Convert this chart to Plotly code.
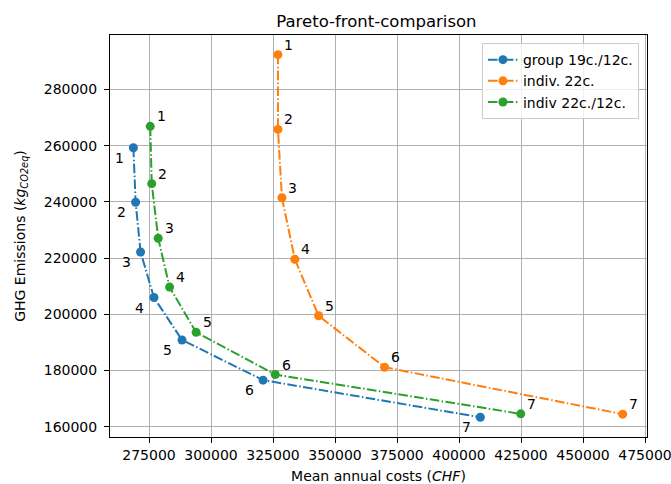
import plotly.graph_objects as go

labels = ["1", "2", "3", "4", "5", "6", "7"]

group_x = [268700, 269600, 271600, 277000, 288300, 321000, 408600]
group_y = [259300, 239900, 222200, 206000, 190900, 176600, 163400]

indiv_x = [327000, 327000, 328600, 333800, 343400, 370000, 466000]
indiv_y = [292400, 265800, 241500, 219600, 199500, 181200, 164500]

mixed_x = [275500, 276100, 278700, 283300, 294000, 325900, 424900]
mixed_y = [266900, 246500, 227100, 209700, 193600, 178600, 164600]

series_names = ["group 19c./12c.", "indiv. 22c.", "indiv 22c./12c."]
colors = ["#1f77b4", "#ff7f0e", "#2ca02c"]
x_ticks = [275000, 300000, 325000, 350000, 375000, 400000, 425000, 450000, 475000]
y_ticks = [160000, 180000, 200000, 220000, 240000, 260000, 280000]

FONT = "DejaVu Sans"
dash = "9.6px,2.4px,1.5px,2.4px"

fig = go.Figure()
datasets = [(group_x, group_y), (indiv_x, indiv_y), (mixed_x, mixed_y)]
offsets = [(-14, -10), (11, 10), (11, 10)]

for (xs, ys), name, col, (dx, dy) in zip(datasets, series_names, colors, offsets):
    fig.add_trace(go.Scatter(
        x=xs, y=ys, mode="lines+markers", name=name,
        line=dict(color=col, width=2, dash=dash),
        marker=dict(color=col, size=9),
    ))
    for xv, yv, lab in zip(xs, ys, labels):
        fig.add_annotation(x=xv, y=yv, xref="x", yref="y", text=lab,
                           showarrow=False, xshift=dx, yshift=dy,
                           font=dict(family=FONT, size=14, color="black"))

fig.update_layout(
    width=671, height=484,
    margin=dict(l=110, r=24, t=35, b=47),
    paper_bgcolor="white", plot_bgcolor="white",
    font=dict(family=FONT, size=14, color="black"),
    title=dict(text="Pareto-front-comparison", x=0.561, xanchor="center",
               y=1 - 21 / 484, yanchor="middle", font=dict(family=FONT, size=16.5)),
    showlegend=True,
    legend=dict(x=0.985, y=0.98, xanchor="right", yanchor="top",
                bgcolor="rgba(255,255,255,0.8)", bordercolor="#cccccc",
                borderwidth=1, font=dict(family=FONT, size=14)),
)
fig.update_xaxes(
    range=[259274, 475806], tickvals=x_ticks,
    tickformat="d", showgrid=True, gridcolor="#b0b0b0", gridwidth=1,
    showline=True, linecolor="black", linewidth=1, mirror=True,
    ticks="outside", ticklen=5, tickcolor="black", zeroline=False,
    automargin=False, ticklabeloverflow="allow",
    title=dict(text="Mean annual costs (<i>CHF</i>)", font=dict(size=14)),
)
fig.update_yaxes(
    range=[156370, 299400], tickvals=y_ticks,
    tickformat="d", showgrid=True, gridcolor="#b0b0b0", gridwidth=1,
    showline=True, linecolor="black", linewidth=1, mirror=True,
    ticks="outside", ticklen=5, tickcolor="black", zeroline=False,
    automargin=True, ticklabelstandoff=4,
    title=dict(text="GHG Emissions (<i>kg</i><sub><i>CO2eq</i></sub>)", standoff=14, font=dict(size=14)),
)

fig.write_html("out.html", config={"displayModeBar": False},
               post_script="document.body.style.margin='0';document.body.style.overflow='hidden';")
